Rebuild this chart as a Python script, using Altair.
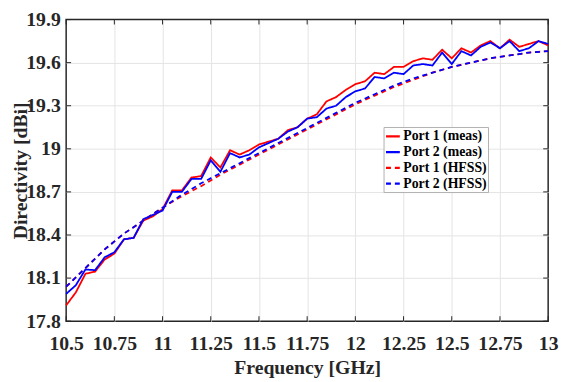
import altair as alt
import pandas as pd

# ---------------- data ----------------
freq = [10.50, 10.55, 10.60, 10.65, 10.70, 10.75, 10.80, 10.85, 10.90, 10.95,
        11.00, 11.05, 11.10, 11.15, 11.20, 11.25, 11.30, 11.35, 11.40, 11.45,
        11.50, 11.55, 11.60, 11.65, 11.70, 11.75, 11.80, 11.85, 11.90, 11.95,
        12.00, 12.05, 12.10, 12.15, 12.20, 12.25, 12.30, 12.35, 12.40, 12.45,
        12.50, 12.55, 12.60, 12.65, 12.70, 12.75, 12.80, 12.85, 12.90, 12.95,
        13.00]

port1_meas = [17.91, 18.00, 18.13, 18.145, 18.23, 18.27, 18.37, 18.38, 18.50, 18.53,
              18.58, 18.71, 18.71, 18.80, 18.81, 18.94, 18.87, 18.99, 18.96, 18.99,
              19.03, 19.05, 19.07, 19.13, 19.15, 19.21, 19.24, 19.33, 19.36, 19.41,
              19.45, 19.47, 19.53, 19.52, 19.57, 19.57, 19.61, 19.63, 19.62, 19.69,
              19.63, 19.70, 19.67, 19.72, 19.75, 19.70, 19.76, 19.71, 19.73, 19.75,
              19.72]

port2_meas = [17.99, 18.05, 18.16, 18.155, 18.245, 18.28, 18.37, 18.38, 18.51, 18.54,
              18.57, 18.70, 18.70, 18.79, 18.79, 18.92, 18.84, 18.97, 18.94, 18.96,
              19.01, 19.04, 19.07, 19.12, 19.15, 19.21, 19.22, 19.28, 19.30, 19.36,
              19.40, 19.42, 19.50, 19.49, 19.53, 19.52, 19.58, 19.59, 19.58, 19.67,
              19.59, 19.68, 19.65, 19.71, 19.74, 19.70, 19.75, 19.68, 19.70, 19.75,
              19.73]

freq_hfss = [10.5, 10.6, 10.7, 10.8, 10.9, 11.0, 11.1, 11.2, 11.3, 11.4,
             11.5, 11.6, 11.7, 11.8, 11.9, 12.0, 12.1, 12.2, 12.3, 12.4,
             12.5, 12.6, 12.7, 12.8, 12.9, 13.0]

port1_hfss = [18.04, 18.17, 18.30, 18.41, 18.50, 18.59, 18.67, 18.74, 18.82, 18.89,
              18.96, 19.03, 19.10, 19.17, 19.24, 19.31, 19.37, 19.43, 19.48, 19.53,
              19.57, 19.60, 19.63, 19.65, 19.67, 19.68]

port2_hfss = [18.04, 18.17, 18.30, 18.41, 18.50, 18.59, 18.68, 18.76, 18.83, 18.90,
              18.97, 19.04, 19.11, 19.18, 19.25, 19.32, 19.38, 19.44, 19.49, 19.53,
              19.57, 19.60, 19.63, 19.65, 19.67, 19.68]

series_names = ["Port 1 (meas)", "Port 2 (meas)", "Port 1 (HFSS)", "Port 2 (HFSS)"]
series_colors = ["#ff0000", "#0000ff", "#ff0000", "#0000ff"]
series_dash = [[1, 0], [1, 0], [5, 4], [5, 4]]

x_ticks = [10.5, 10.75, 11, 11.25, 11.5, 11.75, 12, 12.25, 12.5, 12.75, 13]
y_ticks = [17.8, 18.1, 18.4, 18.7, 19, 19.3, 19.6, 19.9]

# ---------------- tables ----------------
rows = []
for name, fx, vals in [(series_names[0], freq, port1_meas),
                       (series_names[1], freq, port2_meas),
                       (series_names[2], freq_hfss, port1_hfss),
                       (series_names[3], freq_hfss, port2_hfss)]:
    for f, v in zip(fx, vals):
        rows.append({"f": f, "d": v, "s": name})
df = pd.DataFrame(rows)
xt = pd.DataFrame({"v": x_ticks})
yt = pd.DataFrame({"v": y_ticks})

W, H = 489, 306
FONT = "Liberation Serif"
TXT = "#262626"
GRID = "#e4e4e4"
TICK = 5

xs = alt.Scale(domain=[10.5, 13], nice=False, zero=False)
ys = alt.Scale(domain=[17.8, 19.9], nice=False, zero=False)

x_axis = alt.Axis(values=x_ticks, labelExpr="toString(datum.value)",
                  title="Frequency [GHz]", labelPadding=13, labelFlush=False,
                  labelOverlap=False, titleBaseline="alphabetic", titleY=53.5,
                  gridColor={"condition": {"test": "datum.value <= 10.5 || datum.value >= 13",
                                           "value": "transparent"}, "value": GRID})
y_axis = alt.Axis(values=y_ticks, labelExpr="toString(datum.value)",
                  title="Directivity [dBi]", labelPadding=6, labelFlush=False,
                  labelOverlap=False, titleBaseline="alphabetic", titleX=-40,
                  gridColor={"condition": {"test": "datum.value <= 17.8 || datum.value >= 19.9",
                                           "value": "transparent"}, "value": GRID})

leg = alt.Legend(title=None, orient="none", legendX=322, legendY=109,
                 direction="vertical", symbolType="stroke", symbolSize=196,
                 symbolStrokeWidth=2.2, labelFont=FONT, labelFontWeight="bold",
                 labelFontSize=14, labelColor="black", fillColor="white",
                 strokeColor="#b0b0b0", padding=1, rowPadding=0, labelOffset=2,
                 labelLimit=0)

color = alt.Color("s:N", scale=alt.Scale(domain=series_names, range=series_colors), legend=leg)
dash = alt.StrokeDash("s:N", scale=alt.Scale(domain=series_names, range=series_dash), legend=leg)

layers = []
for name in series_names:
    layers.append(
        alt.Chart(df).transform_filter(alt.datum.s == name)
        .mark_line(strokeWidth=1.8)
        .encode(x=alt.X("f:Q", scale=xs, axis=x_axis),
                y=alt.Y("d:Q", scale=ys, axis=y_axis),
                color=color, strokeDash=dash)
    )

tick_style = dict(color=TXT, strokeWidth=1)
xt_bottom = alt.Chart(xt).mark_rule(**tick_style).encode(
    x=alt.X("v:Q", scale=xs, axis=x_axis), y=alt.value(H), y2=alt.value(H - TICK))
xt_top = alt.Chart(xt).mark_rule(**tick_style).encode(
    x=alt.X("v:Q", scale=xs, axis=x_axis), y=alt.value(0), y2=alt.value(TICK))
yt_left = alt.Chart(yt).mark_rule(**tick_style).encode(
    y=alt.Y("v:Q", scale=ys, axis=y_axis), x=alt.value(0), x2=alt.value(TICK))
yt_right = alt.Chart(yt).mark_rule(**tick_style).encode(
    y=alt.Y("v:Q", scale=ys, axis=y_axis), x=alt.value(W), x2=alt.value(W - TICK))

chart = alt.layer(*layers, xt_bottom, xt_top, yt_left, yt_right).properties(
    width=W, height=H,
    autosize=alt.AutoSizeParams(type="none"),
    padding={"left": 59, "top": 9, "right": 11, "bottom": 59},
).configure_view(
    stroke=TXT, strokeWidth=1.5
).configure_axis(
    labelFont=FONT, labelFontSize=20, labelFontWeight="bold", labelColor=TXT,
    titleFont=FONT, titleFontSize=20, titleFontWeight="bold", titleColor=TXT,
    ticks=False, domain=False, gridWidth=1
)

chart.save("out.html", embed_options={"renderer": "svg", "actions": False})
